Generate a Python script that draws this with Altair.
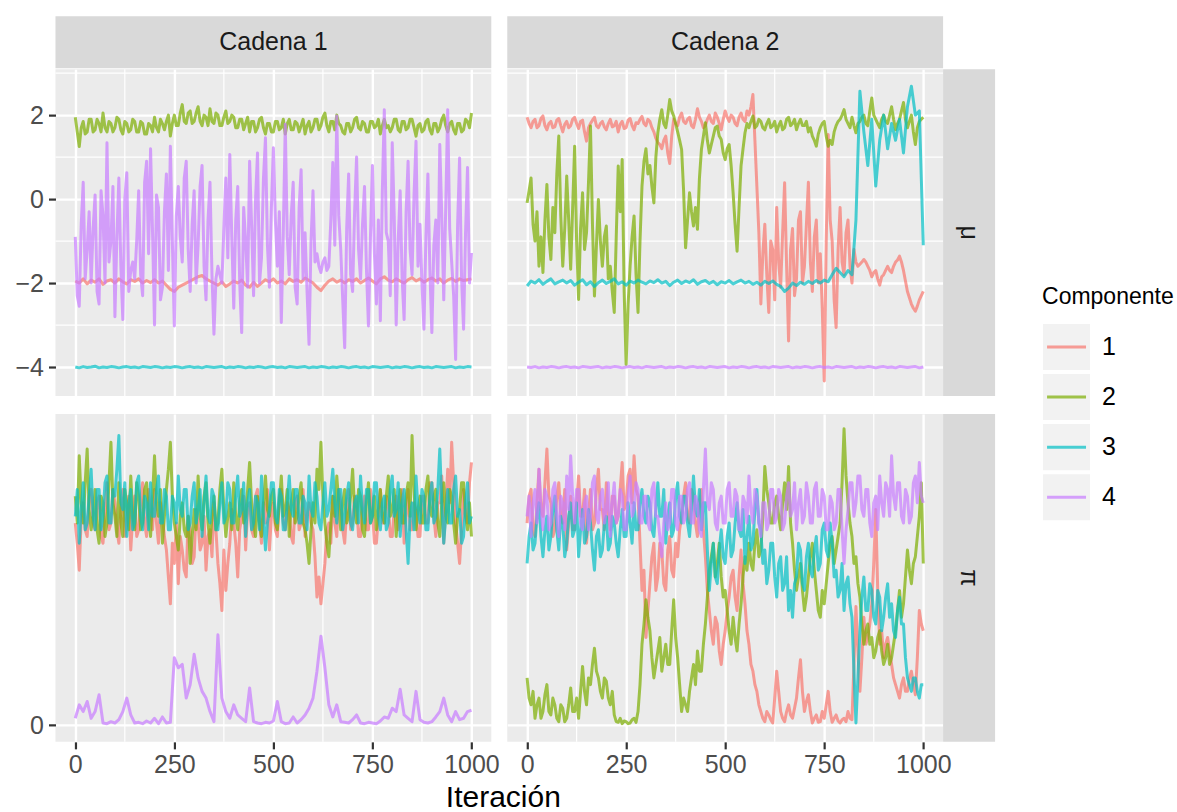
import altair as alt
import pandas as pd

# ---------------------------------------------------------------------------
# Trace data per chain, parameter and mixture component.  Each list spans
# iterations 0..1000 evenly (201 values -> every 5th draw, 101 -> every 10th).
# ---------------------------------------------------------------------------
LAST_ITER = 1000
CHAINS = ["Cadena 1", "Cadena 2"]
COMPONENTS = ["1", "2", "3", "4"]
COLORS = ["#F8766D", "#7CAE00", "#00BFC4", "#C77CFF"]

# ---- mu, chain 1 ----
mu_c1_k1 = [
    -1.95, -2.0, -1.9, -2.02, -1.93, -1.98, -1.9, -2.03, -1.95, -1.92,
    -2.0, -1.9, -1.97, -2.02, -1.92, -1.96, -1.9, -2.0, -1.94, -1.99,
    -1.92, -2.0, -1.95, -2.05, -2.15, -2.2, -2.1, -2.05, -2.0, -1.95,
    -1.9, -1.85, -1.82, -1.9, -1.95, -2.0, -2.05, -1.97, -2.08, -2.02,
    -1.95, -2.0, -1.93, -2.05, -2.1, -1.98, -2.08, -2.0, -1.92, -1.97,
    -1.9, -2.0, -1.95, -2.02, -1.9, -1.96, -1.92, -1.98, -1.88, -1.94,
    -2.0, -2.1, -2.18, -2.05, -1.95, -1.9, -1.98, -1.93, -2.0, -1.92,
    -1.96, -1.9, -2.0, -1.94, -1.88, -1.95, -2.02, -1.9, -1.85, -1.93,
    -1.97, -1.9, -1.95, -2.0, -1.92, -1.87, -1.95, -1.9, -1.98, -1.92,
    -1.88, -1.95, -1.9, -2.0, -1.93, -1.89, -1.96, -1.9, -1.94, -1.92,
    -1.9,
]
mu_c1_k2 = [
    1.95, 1.6, 1.25, 1.7, 1.85, 1.55, 1.6, 1.9, 1.9, 1.6,
    1.65, 1.9, 1.8, 1.6, 2.05, 1.7, 1.6, 1.85, 1.8, 1.6,
    1.7, 1.95, 1.9, 1.65, 1.55, 1.85, 1.8, 1.6, 1.65, 1.9,
    1.85, 1.6, 1.6, 1.85, 1.8, 1.55, 1.55, 1.8, 1.75, 1.6,
    1.95, 1.7, 1.6, 1.9, 1.8, 1.65, 1.85, 2.0, 1.5, 1.8,
    2.0, 1.75, 1.75, 2.05, 2.25, 1.85, 1.8, 2.05, 2.1, 1.8,
    1.85, 2.05, 2.2, 1.85, 1.75, 2.0, 1.95, 1.75, 2.15, 1.85,
    1.8, 2.05, 2.0, 1.75, 1.75, 1.95, 2.1, 1.8, 1.85, 2.0,
    1.95, 1.7, 1.7, 1.9, 1.9, 1.65, 1.8, 1.95, 1.6, 1.85,
    1.85, 1.6, 1.7, 1.9, 1.95, 1.7, 1.55, 1.8, 1.8, 1.6,
    1.6, 1.85, 1.85, 1.65, 1.7, 1.9, 1.55, 1.8, 1.9, 1.65,
    1.65, 1.85, 1.8, 1.6, 1.75, 1.9, 1.55, 1.75, 1.85, 1.6,
    1.7, 1.9, 1.9, 1.65, 1.75, 1.95, 2.05, 1.75, 1.6, 1.85,
    1.85, 1.65, 2.0, 1.8, 1.75, 1.6, 1.55, 1.8, 1.8, 1.6,
    1.7, 1.9, 1.95, 1.7, 1.65, 1.85, 1.8, 1.6, 1.6, 1.85,
    1.85, 1.7, 1.75, 1.9, 1.55, 1.75, 1.9, 1.7, 1.75, 1.6,
    1.7, 1.9, 1.9, 1.65, 1.6, 1.85, 1.85, 1.65, 1.7, 1.9,
    1.9, 1.7, 1.5, 1.75, 1.8, 1.6, 1.65, 1.85, 1.9, 1.65,
    1.55, 1.8, 1.8, 1.6, 1.7, 1.9, 2.0, 1.75, 1.6, 1.8,
    1.85, 1.65, 1.55, 1.8, 1.8, 1.6, 1.65, 1.9, 1.85, 1.7,
    2.05,
]
mu_c1_k3 = [
    -4.0, -4.02, -3.99, -4.01, -4.0, -3.98, -4.02, -4.0, -4.01, -3.99,
    -4.0, -4.02, -4.0, -3.99, -4.01, -4.0, -4.02, -3.99, -4.0, -4.01,
    -3.99, -4.0, -4.02, -4.0, -4.01, -3.99, -4.0, -4.02, -4.0, -3.99,
    -4.01, -4.0, -4.02, -3.99, -4.0, -4.01, -4.0, -3.99, -4.02, -4.0,
    -4.01, -3.99, -4.0, -4.02, -4.0, -4.01, -3.99, -4.0, -4.02, -4.0,
    -3.99, -4.01, -4.0, -4.02, -3.99, -4.0, -4.01, -4.0, -3.99, -4.02,
    -4.0, -4.01, -3.99, -4.0, -4.02, -4.0, -4.01, -3.99, -4.0, -4.02,
    -4.0, -3.99, -4.01, -4.0, -4.02, -3.99, -4.0, -4.01, -4.0, -3.99,
    -4.02, -4.0, -4.01, -3.99, -4.0, -4.02, -4.0, -3.99, -4.01, -4.0,
    -4.02, -3.99, -4.0, -4.01, -4.0, -3.99, -4.02, -4.0, -4.01, -3.99,
    -4.0,
]
mu_c1_k4 = [
    -0.9, -2.3, -2.55, -0.6, 0.4, -1.9, -1.2, -0.3, -2.0, -0.7,
    0.1, -2.2, -2.5, 0.2, -0.4, -2.0, 1.34, -1.5, -1.0, 0.3,
    -2.8, -0.9, 0.5, -1.6, -2.87, 0.0, 0.63, -2.2, -1.7, -1.5,
    -1.9, -1.0, 0.2, -1.8, -2.3, 0.4, 0.9, -1.3, 1.2, -0.8,
    -3.0, 0.1, -0.2, -2.4, -2.1, -0.3, 0.6, -1.7, 1.26, -1.0,
    -3.02, -0.4, 0.3, -0.9, -1.5, 0.5, 0.9, -1.2, -2.2, -0.6,
    0.2, -2.0, -1.1, 0.3, 0.8, -1.6, -2.4, -0.5, 0.4, -1.8,
    -3.22, -1.9, -1.6, -1.8, -2.0, -0.7, 0.5, -1.4, 1.06, -0.9,
    -2.6, -0.5, 0.3, -2.0, -3.18, -0.2, -1.0, -2.1, 0.9, -0.6,
    -2.3, 0.0, 1.1, -2.0, -1.4, 0.5, 1.46, -1.1, -2.1, -0.2,
    1.22, -0.5, -1.6, -0.3, -2.94, -0.8, 1.78, -0.9, -1.8, -0.4,
    0.4, -2.1, -2.5, -0.2, 0.7, -1.9, -0.8, -2.2, -3.46, -1.0,
    0.2, -1.5, -1.3, -1.6, -1.75, -1.5, -1.4, -1.7, -1.6, -0.5,
    0.87, -1.1, 1.98, -0.4, -1.2, -2.4, -3.54, -0.7, 0.6, -1.8,
    -2.2, -0.3, 1.0, -1.2, -1.9, -0.6, 0.3, -1.7, -3.02, -0.9,
    0.8, -1.3, -2.5, -0.5, -2.9, 0.2, 2.13, -0.8, -1.0, -2.3,
    1.34, -0.4, -3.0, -1.0, 0.2, -1.9, -2.87, -0.3, 0.9, -1.2,
    -1.8, 0.1, 1.38, -1.6, -0.6, -2.0, -3.1, -0.9, 0.6, -1.7,
    -3.18, -1.1, -0.5, -2.0, 1.3, -0.4, -2.4, -0.2, 2.13, -0.7,
    -1.5, -2.3, -3.82, -0.6, 0.98, -1.9, -3.1, -0.8, 0.75, -2.0,
    -1.28,
]

# ---- mu, chain 2 ----
mu_c2_k1 = [
    1.95, 1.8, 1.7, 1.85, 1.9, 1.7, 1.75, 1.92, 1.98, 1.75,
    1.65, 1.8, 1.85, 1.7, 1.72, 1.88, 1.92, 1.75, 1.6, 1.78,
    1.85, 1.7, 1.75, 1.9, 1.95, 1.8, 1.68, 1.85, 1.88, 1.6,
    1.38, 1.7, 1.8, 1.88, 1.95, 1.75, 1.7, 1.8, 1.85, 1.72,
    1.65, 1.8, 1.9, 1.72, 1.75, 1.85, 1.6, 1.78, 1.85, 1.68,
    1.7, 1.88, 1.92, 1.75, 1.65, 1.82, 1.8, 1.9, 1.97, 1.8,
    1.75, 1.9, 1.85, 1.7, 1.6, 1.45, 1.35, 1.3, 1.2, 1.4,
    1.5, 1.1, 0.85, 1.5, 1.9, 1.8, 1.75, 1.95, 2.05, 1.85,
    1.8, 1.9, 1.95, 1.75, 1.7, 1.9, 2.15, 1.95, 1.85, 1.7,
    1.75, 1.9, 2.0, 1.85, 1.8, 2.05, 1.95, 1.8, 1.65, 1.9,
    2.1, 1.95, 1.85, 2.0, 1.95, 1.8, 1.75, 1.95, 2.05, 1.9,
    1.85, 2.1, 2.0, 2.2, 2.49, 1.4, 0.3, -0.8, -2.5, -1.3,
    -0.6, -1.8, -2.7, -1.0, -1.2, -2.4, -0.2, -1.5, -2.1, -0.8,
    0.39, -1.6, -3.38, -1.2, -0.7, -2.3, -1.9, -0.5, -0.3, -2.0,
    -1.6, -0.6, 0.4, -1.5, -2.2, -0.9, -0.5, -2.0, -1.3, -2.6,
    -4.33, -1.0, 1.54, -0.5, -1.0, -2.4, -3.06, -1.2, -0.2, -1.5,
    -1.8, -0.8, -0.5, -1.6, -2.0, -1.2, -1.5, -1.6, -1.55, -1.5,
    -1.44, -1.5, -1.6, -1.7, -1.85, -1.75, -1.7, -1.9, -2.05, -1.85,
    -1.8, -1.7, -1.6, -1.7, -1.75, -1.6, -1.5, -1.45, -1.36, -1.5,
    -1.7, -1.95, -2.2, -2.35, -2.5, -2.6, -2.67, -2.55, -2.4, -2.3,
    -2.2,
]
mu_c2_k2 = [
    -0.09, 0.2, 0.5, -0.6, -1.0, -0.3, -1.6, -0.9, -1.75, -0.5,
    0.35, -0.9, -1.44, -0.2, -0.8, 0.6, 1.5, -0.4, -1.6, -0.7,
    0.55, -0.5, -1.67, -0.2, 1.26, -1.0, -2.39, -0.7, 0.15, -1.2,
    -0.8, 0.4, 1.74, -0.6, -2.31, -1.1, -0.01, -1.0, -1.6, -0.9,
    -0.64, -1.9, -1.6, -2.2, -2.7, -0.9, 0.79, -0.3, 0.94, -2.2,
    -3.94, -2.5, -1.6, -0.9, -0.4, -1.8, -2.7, -1.0, 0.31, 0.9,
    1.2, 0.6, 0.8, 0.3, -0.09, 1.0, 1.58, 1.9, 2.13, 1.8,
    1.7, 2.0, 2.37, 2.1, 1.98, 1.8, 1.6, 1.4, 1.18, 0.2,
    -1.16, -0.5, 0.15, -0.3, -0.64, -0.2, -0.72, 0.5, 1.18, 1.5,
    1.82, 1.4, 1.1, 1.3, 1.5, 1.7, 1.74, 1.5, 1.42, 1.1,
    0.94, 1.2, 1.3, 0.8, 0.15, -0.6, -1.24, -0.2, 0.79, 1.2,
    1.58, 1.8, 1.7, 1.85, 1.98, 1.7, 1.75, 1.9, 1.85, 1.7,
    1.65, 1.8, 1.9, 1.7, 1.75, 1.85, 1.6, 1.75, 1.85, 1.65,
    1.7, 1.9, 1.95, 1.75, 1.8, 1.9, 1.65, 1.8, 1.9, 1.75,
    1.75, 1.85, 1.6, 1.7, 1.5, 1.4, 1.26, 1.55, 1.7, 1.8,
    1.85, 1.5, 1.26, 1.4, 1.3, 1.6, 1.75, 1.85, 1.9, 2.0,
    2.13, 1.9, 1.8, 1.7, 1.95, 1.75, 1.58, 1.8, 1.85, 1.95,
    2.0, 1.8, 1.75, 2.1, 2.41, 2.0, 1.9, 1.8, 1.7, 1.9,
    2.0, 1.85, 1.8, 2.0, 2.2, 1.9, 1.65, 1.8, 1.9, 2.1,
    2.3, 1.9, 1.7, 1.85, 2.0, 1.6, 1.3, 1.7, 1.85, 1.9,
    1.95,
]
mu_c2_k3 = [
    -2.07, -1.95, -2.0, -1.92, -2.03, -1.96, -1.9, -2.02, -1.97, -1.93,
    -2.0, -1.94, -2.05, -1.98, -1.92, -2.04, -1.97, -2.08, -1.99, -1.93,
    -2.01, -1.96, -1.9, -2.02, -1.97, -2.05, -1.95, -2.0, -1.93, -1.98,
    -2.02, -1.95, -1.99, -1.92, -2.0, -1.96, -2.06, -1.98, -1.93, -2.01,
    -1.95, -1.99, -1.92, -2.03, -1.97, -1.94, -2.01, -1.96, -2.04, -1.97,
    -2.0, -1.94, -2.02, -1.97, -1.93, -2.0, -1.96, -2.03, -1.98, -2.05,
    -1.96, -2.01, -1.95, -2.03, -2.08, -2.2, -2.12, -2.0, -2.06, -1.98,
    -2.03, -1.96, -2.01, -1.94, -2.0, -1.93, -1.97, -1.8, -1.65, -1.75,
    -1.85, -1.7, -1.8, -0.5, 2.57, 1.6, 0.8, 1.9, 0.31, 1.4,
    2.0, 1.2, 1.8, 1.4, 1.9, 1.1, 2.2, 2.69, 2.0, 2.1,
    -1.1,
]
mu_c2_k4 = [
    -4.0, -4.01, -3.99, -4.02, -4.0, -4.01, -3.99, -4.0, -4.02, -4.0,
    -3.99, -4.01, -4.0, -4.02, -3.99, -4.0, -4.01, -4.0, -3.99, -4.02,
    -4.0, -4.01, -3.99, -4.0, -4.02, -4.0, -3.99, -4.01, -4.0, -4.02,
    -3.99, -4.0, -4.01, -4.0, -3.99, -4.02, -4.0, -4.01, -3.99, -4.0,
    -4.02, -4.0, -3.99, -4.01, -4.0, -4.02, -3.99, -4.0, -4.01, -4.0,
    -3.99, -4.02, -4.0, -4.01, -3.99, -4.0, -4.02, -4.0, -3.99, -4.01,
    -4.0, -4.02, -3.99, -4.0, -4.01, -4.0, -3.99, -4.02, -4.0, -4.01,
    -3.99, -4.0, -4.02, -4.0, -3.99, -4.01, -4.0, -4.02, -3.99, -4.0,
    -4.01, -4.0, -3.99, -4.02, -4.0, -4.01, -3.99, -4.0, -4.02, -4.0,
    -3.99, -4.01, -4.0, -4.02, -3.99, -4.0, -4.01, -4.0, -3.99, -4.02,
    -4.0,
]

# ---- pi, chain 1 ----
pi_c1_k1 = [
    0.30, 0.27, 0.23, 0.31, 0.33, 0.29, 0.28, 0.34, 0.35, 0.30,
    0.29, 0.33, 0.34, 0.28, 0.27, 0.32, 0.36, 0.29, 0.30, 0.35,
    0.33, 0.29, 0.27, 0.32, 0.35, 0.28, 0.30, 0.34, 0.26, 0.31,
    0.34, 0.28, 0.29, 0.33, 0.36, 0.30, 0.28, 0.35, 0.32, 0.29,
    0.35, 0.30, 0.27, 0.33, 0.31, 0.28, 0.26, 0.22, 0.18, 0.27,
    0.24, 0.30, 0.21, 0.28, 0.26, 0.23, 0.22, 0.31, 0.29, 0.24,
    0.25, 0.32, 0.30, 0.26, 0.27, 0.31, 0.23, 0.28, 0.29, 0.25,
    0.33, 0.29, 0.24, 0.21, 0.17, 0.26, 0.20, 0.24, 0.27, 0.32,
    0.30, 0.27, 0.22, 0.29, 0.31, 0.34, 0.26, 0.32, 0.33, 0.29,
    0.28, 0.34, 0.35, 0.30, 0.27, 0.33, 0.30, 0.35, 0.26, 0.31,
    0.33, 0.29, 0.28, 0.34, 0.35, 0.30, 0.29, 0.33, 0.32, 0.28,
    0.27, 0.33, 0.34, 0.29, 0.30, 0.35, 0.28, 0.31, 0.33, 0.30,
    0.29, 0.25, 0.19, 0.22, 0.18, 0.21, 0.24, 0.29, 0.30, 0.27,
    0.34, 0.30, 0.28, 0.35, 0.33, 0.29, 0.27, 0.32, 0.35, 0.29,
    0.30, 0.34, 0.33, 0.28, 0.28, 0.32, 0.34, 0.29, 0.29, 0.35,
    0.32, 0.27, 0.27, 0.31, 0.35, 0.30, 0.30, 0.34, 0.33, 0.28,
    0.28, 0.32, 0.34, 0.29, 0.30, 0.35, 0.27, 0.31, 0.35, 0.29,
    0.29, 0.33, 0.32, 0.28, 0.28, 0.34, 0.34, 0.30, 0.30, 0.36,
    0.36, 0.31, 0.28, 0.33, 0.33, 0.37, 0.27, 0.32, 0.38, 0.33,
    0.42, 0.36, 0.30, 0.27, 0.24, 0.29, 0.35, 0.31, 0.30, 0.36,
    0.39,
]
pi_c1_k2 = [
    0.34, 0.30, 0.40, 0.33, 0.30, 0.36, 0.41, 0.32, 0.29, 0.31,
    0.35, 0.29, 0.27, 0.34, 0.33, 0.28, 0.30, 0.36, 0.42, 0.33,
    0.31, 0.28, 0.36, 0.30, 0.28, 0.35, 0.33, 0.29, 0.37, 0.31,
    0.29, 0.36, 0.34, 0.29, 0.30, 0.35, 0.36, 0.31, 0.28, 0.34,
    0.40, 0.33, 0.31, 0.35, 0.27, 0.31, 0.35, 0.38, 0.42, 0.34,
    0.30, 0.28, 0.26, 0.31, 0.33, 0.29, 0.28, 0.31, 0.24, 0.28,
    0.32, 0.29, 0.37, 0.31, 0.29, 0.34, 0.36, 0.30, 0.27, 0.31,
    0.34, 0.29, 0.30, 0.35, 0.38, 0.32, 0.28, 0.31, 0.33, 0.29,
    0.36, 0.31, 0.29, 0.33, 0.35, 0.30, 0.31, 0.35, 0.39, 0.33,
    0.30, 0.28, 0.34, 0.30, 0.28, 0.33, 0.37, 0.32, 0.31, 0.34,
    0.35, 0.30, 0.29, 0.33, 0.37, 0.31, 0.32, 0.35, 0.28, 0.33,
    0.35, 0.30, 0.31, 0.34, 0.36, 0.30, 0.29, 0.27, 0.24, 0.29,
    0.33, 0.30, 0.38, 0.35, 0.42, 0.34, 0.30, 0.27, 0.25, 0.30,
    0.34, 0.31, 0.37, 0.33, 0.29, 0.33, 0.35, 0.30, 0.31, 0.34,
    0.38, 0.32, 0.30, 0.35, 0.34, 0.29, 0.28, 0.33, 0.36, 0.30,
    0.31, 0.34, 0.29, 0.32, 0.35, 0.31, 0.30, 0.34, 0.37, 0.31,
    0.32, 0.35, 0.28, 0.32, 0.35, 0.30, 0.30, 0.34, 0.36, 0.31,
    0.43, 0.35, 0.29, 0.32, 0.34, 0.30, 0.30, 0.35, 0.37, 0.32,
    0.31, 0.34, 0.35, 0.30, 0.28, 0.33, 0.36, 0.31, 0.30, 0.35,
    0.34, 0.30, 0.27, 0.31, 0.32, 0.36, 0.36, 0.31, 0.29, 0.33,
    0.28,
]
pi_c1_k3 = [
    0.31, 0.35, 0.27, 0.32, 0.36, 0.29, 0.30, 0.34, 0.38, 0.31,
    0.29, 0.35, 0.35, 0.29, 0.31, 0.36, 0.37, 0.30, 0.30, 0.35,
    0.34, 0.38, 0.43, 0.33, 0.32, 0.36, 0.28, 0.33, 0.35, 0.29,
    0.30, 0.36, 0.37, 0.31, 0.29, 0.34, 0.33, 0.29, 0.36, 0.31,
    0.31, 0.35, 0.37, 0.30, 0.30, 0.35, 0.34, 0.29, 0.29, 0.34,
    0.33, 0.30, 0.37, 0.32, 0.31, 0.35, 0.35, 0.29, 0.30, 0.34,
    0.36, 0.30, 0.32, 0.35, 0.28, 0.33, 0.37, 0.31, 0.30, 0.35,
    0.34, 0.29, 0.29, 0.33, 0.36, 0.30, 0.31, 0.36, 0.35, 0.30,
    0.30, 0.34, 0.37, 0.31, 0.32, 0.36, 0.28, 0.33, 0.35, 0.29,
    0.30, 0.34, 0.33, 0.29, 0.37, 0.31, 0.26, 0.30, 0.32, 0.36,
    0.36, 0.31, 0.30, 0.35, 0.34, 0.29, 0.29, 0.33, 0.37, 0.32,
    0.31, 0.35, 0.35, 0.30, 0.30, 0.34, 0.33, 0.29, 0.37, 0.32,
    0.31, 0.36, 0.34, 0.30, 0.29, 0.33, 0.36, 0.31, 0.32, 0.35,
    0.38, 0.33, 0.30, 0.35, 0.35, 0.29, 0.31, 0.34, 0.36, 0.30,
    0.29, 0.33, 0.34, 0.30, 0.37, 0.32, 0.30, 0.35, 0.35, 0.30,
    0.31, 0.36, 0.36, 0.31, 0.29, 0.33, 0.34, 0.29, 0.30, 0.35,
    0.37, 0.31, 0.32, 0.36, 0.28, 0.33, 0.35, 0.29, 0.24, 0.31,
    0.33, 0.29, 0.37, 0.32, 0.30, 0.35, 0.34, 0.29, 0.29, 0.34,
    0.36, 0.30, 0.31, 0.35, 0.41, 0.33, 0.27, 0.31, 0.35, 0.30,
    0.30, 0.35, 0.37, 0.31, 0.32, 0.27, 0.28, 0.33, 0.36, 0.30,
    0.31,
]
pi_c1_k4 = [
    0.010, 0.030, 0.020, 0.035, 0.010, 0.020, 0.045, 0.003, 0.002, 0.005,
    0.003, 0.008, 0.020, 0.040, 0.015, 0.003, 0.004, 0.002, 0.006, 0.003,
    0.010, 0.002, 0.012, 0.003, 0.004, 0.100, 0.085, 0.090, 0.040, 0.060,
    0.105, 0.070, 0.050, 0.040, 0.020, 0.005, 0.134, 0.040, 0.020, 0.010,
    0.030, 0.015, 0.010, 0.005, 0.055, 0.005, 0.003, 0.002, 0.004, 0.003,
    0.006, 0.035, 0.005, 0.002, 0.003, 0.012, 0.003, 0.008, 0.015, 0.025,
    0.040, 0.080, 0.132, 0.085, 0.030, 0.012, 0.030, 0.005, 0.004, 0.003,
    0.008, 0.015, 0.003, 0.002, 0.004, 0.003, 0.002, 0.006, 0.012, 0.010,
    0.025, 0.020, 0.053, 0.015, 0.010, 0.005, 0.050, 0.008, 0.004, 0.003,
    0.005, 0.012, 0.020, 0.040, 0.015, 0.005, 0.020, 0.008, 0.010, 0.020,
    0.022,
]

# ---- pi, chain 2 ----
pi_c2_k1 = [
    0.30, 0.34, 0.35, 0.29, 0.28, 0.33, 0.38, 0.32, 0.31, 0.36,
    0.41, 0.34, 0.33, 0.28, 0.29, 0.34, 0.36, 0.31, 0.30, 0.35,
    0.26, 0.30, 0.34, 0.29, 0.29, 0.33, 0.37, 0.31, 0.31, 0.35,
    0.27, 0.31, 0.35, 0.29, 0.30, 0.35, 0.38, 0.32, 0.32, 0.29,
    0.36, 0.31, 0.29, 0.34, 0.34, 0.30, 0.31, 0.35, 0.39, 0.32,
    0.33, 0.37, 0.38, 0.33, 0.40, 0.35, 0.34, 0.27, 0.20, 0.23,
    0.13, 0.17, 0.21, 0.25, 0.27, 0.20, 0.22, 0.27, 0.26, 0.21,
    0.20, 0.26, 0.28, 0.23, 0.22, 0.27, 0.25, 0.29, 0.31, 0.34,
    0.36, 0.31, 0.30, 0.35, 0.34, 0.30, 0.28, 0.33, 0.35, 0.29,
    0.25, 0.20, 0.17, 0.14, 0.12, 0.16, 0.15, 0.11, 0.09, 0.12,
    0.14, 0.17, 0.19, 0.22, 0.23, 0.19, 0.17, 0.22, 0.26, 0.21,
    0.18, 0.14, 0.12, 0.09, 0.08, 0.06, 0.05, 0.03, 0.02, 0.01,
    0.005, 0.02, 0.015, 0.008, 0.003, 0.04, 0.08, 0.05, 0.02, 0.01,
    0.005, 0.02, 0.03, 0.015, 0.01, 0.025, 0.04, 0.07, 0.097, 0.05,
    0.02, 0.035, 0.045, 0.02, 0.003, 0.01, 0.015, 0.004, 0.005, 0.02,
    0.01, 0.03, 0.05, 0.02, 0.004, 0.01, 0.015, 0.006, 0.003, 0.008,
    0.01, 0.005, 0.02, 0.01, 0.008, 0.09, 0.176, 0.11, 0.05, 0.10,
    0.16, 0.12, 0.13, 0.15, 0.18, 0.24, 0.32, 0.20, 0.12, 0.14,
    0.10, 0.12, 0.13, 0.11, 0.09, 0.07, 0.06, 0.05, 0.04, 0.06,
    0.07, 0.05, 0.05, 0.07, 0.08, 0.06, 0.045, 0.10, 0.17, 0.15,
    0.14,
]
pi_c2_k2 = [
    0.07, 0.04, 0.03, 0.05, 0.01, 0.03, 0.04, 0.01, 0.02, 0.045,
    0.06, 0.02, 0.015, 0.04, 0.03, 0.01, 0.005, 0.03, 0.025, 0.005,
    0.01, 0.03, 0.055, 0.02, 0.02, 0.04, 0.01, 0.05, 0.087, 0.05,
    0.03, 0.07, 0.06, 0.09, 0.114, 0.08, 0.07, 0.05, 0.04, 0.07,
    0.065, 0.04, 0.03, 0.05, 0.015, 0.005, 0.004, 0.01, 0.002, 0.006,
    0.005, 0.002, 0.003, 0.008, 0.01, 0.004, 0.02, 0.06, 0.12, 0.15,
    0.186, 0.16, 0.14, 0.10, 0.07, 0.09, 0.11, 0.13, 0.08, 0.10,
    0.12, 0.09, 0.09, 0.14, 0.186, 0.13, 0.10, 0.06, 0.02, 0.04,
    0.03, 0.02, 0.05, 0.07, 0.09, 0.06, 0.11, 0.08, 0.08, 0.12,
    0.15, 0.19, 0.23, 0.25, 0.27, 0.22, 0.24, 0.27, 0.22, 0.19,
    0.20, 0.17, 0.14, 0.12, 0.16, 0.13, 0.11, 0.15, 0.18, 0.22,
    0.25, 0.23, 0.27, 0.24, 0.23, 0.27, 0.29, 0.25, 0.26, 0.31,
    0.384, 0.35, 0.33, 0.30, 0.30, 0.33, 0.34, 0.31, 0.29, 0.33,
    0.36, 0.32, 0.384, 0.30, 0.27, 0.23, 0.20, 0.22, 0.24, 0.20,
    0.17, 0.19, 0.22, 0.25, 0.27, 0.23, 0.20, 0.17, 0.16, 0.20,
    0.18, 0.21, 0.24, 0.27, 0.28, 0.24, 0.26, 0.28, 0.30, 0.36,
    0.44, 0.37, 0.33, 0.30, 0.28, 0.24, 0.25, 0.21, 0.19, 0.15,
    0.12, 0.14, 0.15, 0.12, 0.13, 0.10, 0.11, 0.13, 0.14, 0.11,
    0.09, 0.10, 0.12, 0.09, 0.10, 0.12, 0.14, 0.17, 0.20, 0.16,
    0.18, 0.22, 0.26, 0.23, 0.21, 0.24, 0.25, 0.28, 0.31, 0.36,
    0.24,
]
pi_c2_k3 = [
    0.24, 0.28, 0.30, 0.26, 0.27, 0.31, 0.33, 0.28, 0.25, 0.29,
    0.31, 0.26, 0.28, 0.32, 0.34, 0.29, 0.26, 0.31, 0.30, 0.25,
    0.27, 0.31, 0.33, 0.28, 0.29, 0.33, 0.25, 0.29, 0.32, 0.27,
    0.28, 0.32, 0.30, 0.26, 0.23, 0.28, 0.29, 0.25, 0.26, 0.30,
    0.31, 0.26, 0.27, 0.31, 0.30, 0.27, 0.25, 0.29, 0.32, 0.28,
    0.28, 0.33, 0.30, 0.27, 0.33, 0.29, 0.29, 0.33, 0.35, 0.31,
    0.30, 0.34, 0.33, 0.29, 0.28, 0.32, 0.36, 0.31, 0.31, 0.35,
    0.27, 0.31, 0.33, 0.28, 0.29, 0.34, 0.36, 0.31, 0.30, 0.34,
    0.34, 0.30, 0.28, 0.32, 0.37, 0.32, 0.31, 0.35, 0.29, 0.33,
    0.33, 0.26, 0.20, 0.24, 0.27, 0.22, 0.21, 0.26, 0.29, 0.25,
    0.24, 0.28, 0.30, 0.25, 0.26, 0.30, 0.33, 0.29, 0.28, 0.32,
    0.24, 0.28, 0.31, 0.26, 0.27, 0.32, 0.35, 0.30, 0.29, 0.24,
    0.26, 0.21, 0.23, 0.27, 0.27, 0.22, 0.19, 0.24, 0.25, 0.20,
    0.21, 0.25, 0.17, 0.20, 0.16, 0.21, 0.22, 0.27, 0.26, 0.21,
    0.20, 0.25, 0.27, 0.23, 0.22, 0.26, 0.28, 0.23, 0.24, 0.29,
    0.30, 0.26, 0.25, 0.30, 0.27, 0.22, 0.23, 0.19, 0.20, 0.24,
    0.17, 0.21, 0.22, 0.18, 0.16, 0.08, 0.003, 0.07, 0.14, 0.19,
    0.22, 0.17, 0.17, 0.21, 0.20, 0.16, 0.15, 0.20, 0.19, 0.14,
    0.16, 0.19, 0.21, 0.16, 0.18, 0.14, 0.13, 0.17, 0.19, 0.15,
    0.15, 0.10, 0.07, 0.06, 0.05, 0.07, 0.07, 0.05, 0.04, 0.06,
    0.06,
]
pi_c2_k4 = [
    0.31, 0.34, 0.28, 0.33, 0.35, 0.30, 0.38, 0.32, 0.29, 0.35,
    0.34, 0.29, 0.30, 0.35, 0.36, 0.31, 0.28, 0.34, 0.33, 0.29,
    0.37, 0.32, 0.40, 0.34, 0.30, 0.35, 0.35, 0.30, 0.29, 0.33,
    0.34, 0.29, 0.31, 0.36, 0.37, 0.31, 0.30, 0.34, 0.35, 0.30,
    0.32, 0.36, 0.28, 0.33, 0.36, 0.30, 0.31, 0.35, 0.34, 0.29,
    0.29, 0.34, 0.37, 0.31, 0.32, 0.36, 0.35, 0.30, 0.30, 0.34,
    0.34, 0.30, 0.29, 0.35, 0.36, 0.31, 0.31, 0.28, 0.25, 0.30,
    0.33, 0.29, 0.30, 0.35, 0.35, 0.30, 0.29, 0.34, 0.34, 0.30,
    0.31, 0.35, 0.36, 0.30, 0.30, 0.34, 0.33, 0.29, 0.28, 0.35,
    0.41, 0.33, 0.32, 0.36, 0.35, 0.30, 0.29, 0.33, 0.34, 0.30,
    0.30, 0.35, 0.36, 0.31, 0.31, 0.35, 0.34, 0.29, 0.29, 0.34,
    0.33, 0.30, 0.37, 0.32, 0.30, 0.35, 0.34, 0.30, 0.28, 0.33,
    0.33, 0.29, 0.30, 0.35, 0.35, 0.30, 0.31, 0.35, 0.34, 0.29,
    0.30, 0.34, 0.36, 0.31, 0.32, 0.36, 0.29, 0.33, 0.35, 0.30,
    0.31, 0.36, 0.34, 0.30, 0.30, 0.35, 0.36, 0.31, 0.31, 0.35,
    0.34, 0.29, 0.29, 0.34, 0.33, 0.29, 0.30, 0.35, 0.35, 0.29,
    0.24, 0.29, 0.32, 0.36, 0.36, 0.31, 0.33, 0.37, 0.37, 0.32,
    0.31, 0.35, 0.35, 0.30, 0.28, 0.33, 0.34, 0.29, 0.37, 0.33,
    0.31, 0.36, 0.35, 0.31, 0.40, 0.34, 0.32, 0.36, 0.36, 0.31,
    0.30, 0.35, 0.34, 0.30, 0.31, 0.36, 0.37, 0.33, 0.39, 0.34,
    0.33,
]

# ---------------------------------------------------------------------------
# Layout and style
# ---------------------------------------------------------------------------
FONT = "Liberation Sans"
PW = 436                 # panel width
PH_MU, PH_PI = 327, 328  # panel heights
STRIP = 52               # strip thickness
GAP = 16                 # space between panels
LINE_W = 3.0
ALPHA = 0.7
GRID_MAJOR_W = 2.4
GRID_MINOR_W = 1.2
STRIP_FILL = "#D9D9D9"
TEXT_SIZE = 25

X_DOMAIN = [-50, 1050]
X_MAJOR = [0, 250, 500, 750, 1000]
X_MINOR = [125, 375, 625, 875]
MU_DOMAIN = [-4.69, 3.095]
MU_MAJOR = [-4, -2, 0, 2]
MU_MINOR = [-3, -1, 1, 3]
PI_DOMAIN = [-0.025, 0.462]
PI_MAJOR = [0]

color_scale = alt.Scale(domain=COMPONENTS, range=COLORS)


def traces(series):
    rows = []
    for comp, vals in zip(COMPONENTS, series):
        step = LAST_ITER / (len(vals) - 1)
        for i, v in enumerate(vals):
            rows.append({"iter": round(i * step, 3), "valor": v, "comp": comp})
    return pd.DataFrame(rows)


def make_axis(values, show, pad):
    return alt.Axis(
        values=values, format="d", grid=True, gridColor="white",
        gridWidth=GRID_MAJOR_W, domain=False, labels=show, ticks=show,
        title=None, labelFont=FONT, labelFontSize=TEXT_SIZE,
        labelColor="#4D4D4D", tickColor="#333333", tickSize=7,
        tickWidth=2.2, labelPadding=pad, labelFlush=False,
    )


def panel(series, y_domain, y_major, y_minor, height, show_y, show_x,
          side_label=None):
    df = traces(series)
    xs = alt.Scale(domain=X_DOMAIN, nice=False, zero=False)
    ys = alt.Scale(domain=y_domain, nice=False, zero=False)
    x_axis = make_axis(X_MAJOR, show_x, 4)
    y_axis = make_axis(y_major, show_y, 5)
    layers = [
        alt.Chart(pd.DataFrame({"v": X_MINOR})).mark_rule(
            color="white", strokeWidth=GRID_MINOR_W
        ).encode(x=alt.X("v:Q", scale=xs, axis=x_axis))
    ]
    if y_minor:
        layers.append(
            alt.Chart(pd.DataFrame({"v": y_minor})).mark_rule(
                color="white", strokeWidth=GRID_MINOR_W
            ).encode(y=alt.Y("v:Q", scale=ys, axis=y_axis))
        )
    layers.append(
        alt.Chart(df).mark_line(
            strokeWidth=LINE_W, opacity=ALPHA, strokeJoin="round"
        ).encode(
            x=alt.X("iter:Q", scale=xs, axis=x_axis),
            y=alt.Y("valor:Q", scale=ys, axis=y_axis),
            color=alt.Color("comp:N", scale=color_scale, legend=None),
            detail="comp:N",
        )
    )
    if side_label is not None:
        # facet strip on the right-hand side of the panel
        lab = pd.DataFrame({"lab": [side_label]})
        layers.append(
            alt.Chart(lab).mark_rect(color=STRIP_FILL).encode(
                x=alt.value(PW), x2=alt.value(PW + STRIP),
                y=alt.value(0), y2=alt.value(height),
            )
        )
        layers.append(
            alt.Chart(lab).mark_text(
                font=FONT, fontSize=TEXT_SIZE, color="#1A1A1A", angle=90,
                baseline="middle",
            ).encode(
                text="lab:N", x=alt.value(PW + STRIP / 2),
                y=alt.value(height / 2),
            )
        )
    return alt.layer(*layers).properties(
        width=PW, height=height,
        view=alt.ViewBackground(fill="#EBEBEB", stroke=None),
    )


def top_strip(label):
    return alt.Chart(pd.DataFrame({"lab": [label]})).mark_text(
        font=FONT, fontSize=TEXT_SIZE, color="#1A1A1A", baseline="middle"
    ).encode(
        text="lab:N", x=alt.value(PW / 2), y=alt.value(STRIP / 2)
    ).properties(
        width=PW, height=STRIP,
        view=alt.ViewBackground(fill=STRIP_FILL, stroke=None),
    )


p_mu1 = panel([mu_c1_k1, mu_c1_k2, mu_c1_k3, mu_c1_k4], MU_DOMAIN, MU_MAJOR,
              MU_MINOR, PH_MU, True, False)
p_mu2 = panel([mu_c2_k1, mu_c2_k2, mu_c2_k3, mu_c2_k4], MU_DOMAIN, MU_MAJOR,
              MU_MINOR, PH_MU, False, False, side_label="μ")
p_pi1 = panel([pi_c1_k1, pi_c1_k2, pi_c1_k3, pi_c1_k4], PI_DOMAIN, PI_MAJOR,
              [], PH_PI, True, True)
p_pi2 = panel([pi_c2_k1, pi_c2_k2, pi_c2_k3, pi_c2_k4], PI_DOMAIN, PI_MAJOR,
              [], PH_PI, False, True, side_label="π")

# panels are placed by their plot areas only, so tick labels that spill
# past a panel edge do not widen the gaps between panels
strips = alt.hconcat(top_strip(CHAINS[0]), top_strip(CHAINS[1]),
                     spacing=GAP, bounds="flush")
row_mu = alt.hconcat(p_mu1, p_mu2, spacing=GAP, bounds="flush")
row_pi = alt.hconcat(
    p_pi1, p_pi2, spacing=GAP, bounds="flush",
    title=alt.TitleParams(
        "Iteración", orient="bottom", anchor="middle", font=FONT,
        fontSize=30, fontWeight="normal", color="black", offset=5, dx=-9,
    ),
)
grid = alt.vconcat(alt.vconcat(strips, row_mu, spacing=0), row_pi, spacing=GAP)

# ---- legend drawn as its own small chart ----
LEG_H = STRIP + PH_MU + GAP + PH_PI
leg_scale = alt.Scale(domain=[8.82, -5.6], nice=False, zero=False)
leg_df = pd.DataFrame({"comp": COMPONENTS, "slot": [1, 2, 3, 4]})
leg_title_df = pd.DataFrame({"t": ["Componente"], "slot": [0]})

leg_keys = alt.Chart(leg_df).transform_calculate(
    top="datum.slot - 0.46", bot="datum.slot + 0.46"
).mark_rect(color="#F2F2F2").encode(
    x=alt.value(3), x2=alt.value(50),
    y=alt.Y("top:Q", scale=leg_scale, axis=None), y2="bot:Q",
)
leg_lines = alt.Chart(leg_df).mark_rule(strokeWidth=LINE_W, opacity=ALPHA).encode(
    x=alt.value(7), x2=alt.value(46),
    y=alt.Y("slot:Q", scale=leg_scale, axis=None),
    color=alt.Color("comp:N", scale=color_scale, legend=None),
)
leg_labels = alt.Chart(leg_df).mark_text(
    font=FONT, fontSize=TEXT_SIZE, align="left", baseline="middle",
    color="black",
).encode(
    x=alt.value(62), y=alt.Y("slot:Q", scale=leg_scale, axis=None), text="comp:N"
)
leg_title = alt.Chart(leg_title_df).mark_text(
    font=FONT, fontSize=23, align="left", baseline="middle", color="black"
).encode(
    x=alt.value(2), y=alt.Y("slot:Q", scale=leg_scale, axis=None), text="t:N"
)
legend = alt.layer(leg_keys, leg_lines, leg_labels, leg_title).properties(
    width=137, height=LEG_H, view=alt.ViewBackground(fill=None, stroke=None)
)

chart = alt.hconcat(grid, legend, spacing=45).properties(
    padding={"left": 14.5, "top": 16, "right": 0, "bottom": 0},
    background="white",
).configure_view(stroke=None)

chart.save("out.html", embed_options={"renderer": "svg", "actions": False})
